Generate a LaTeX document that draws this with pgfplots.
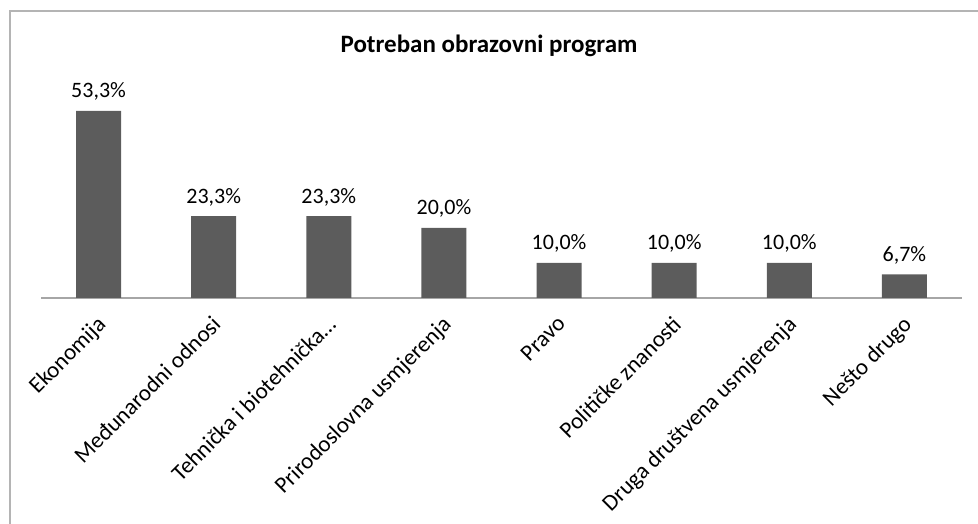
\documentclass[border=0pt]{standalone}
\usepackage{fontspec}
\setmainfont{Carlito}
\usepackage{pgfplots}
\pgfplotsset{compat=1.18}
\definecolor{barc}{HTML}{5C5C5C}
\definecolor{axc}{HTML}{A6A6A6}
\definecolor{frc}{HTML}{B4B4B4}
\begin{document}
\begin{tikzpicture}[x=1pt,y=1pt]
\path[use as bounding box] (0,0) rectangle (978,524);
\draw[frc, line width=1.5pt] (10,0) -- (10,513) -- (978,513);
\node[font=\fontsize{25}{30}\selectfont\bfseries] at (489,478) {Potreban obrazovni program};
\begin{axis}[
  at={(41pt,226pt)}, anchor=south west,
  scale only axis, width=921pt, height=210.6pt,
  xmin=-0.5, xmax=7.5, ymin=0, ymax=60,
  axis x line=bottom, axis y line=none,
  x axis line style={-},
  axis line style={axc, line width=1.2pt},
  ytick=\empty, xtick={0,...,7},
  xticklabels={Ekonomija, Međunarodni odnosi, Tehnička i biotehnička…, Prirodoslovna usmjerenja, Pravo, Političke znanosti, Druga društvena usmjerenja, Nešto drugo},
  major tick length=0,
  xticklabel style={xshift=-3pt, yshift=-15pt, rotate=45, anchor=north east, font=\fontsize{23}{28}\selectfont, inner sep=1pt, text=black},
  ybar, bar width=45pt,
  clip=false,
  /pgf/number format/assume math mode=true,
  nodes near coords={\pgfmathprintnumber[fixed,fixed zerofill,precision=1,use comma]{\pgfplotspointmeta}\%},
  nodes near coords style={font=\fontsize{22}{26}\selectfont, text=black, inner sep=4pt, yshift=6pt},
]
\addplot[fill=barc, draw=none] coordinates {(0,53.3) (1,23.3) (2,23.3) (3,20.0) (4,10.0) (5,10.0) (6,10.0) (7,6.7)};
\end{axis}
\end{tikzpicture}
\end{document}
